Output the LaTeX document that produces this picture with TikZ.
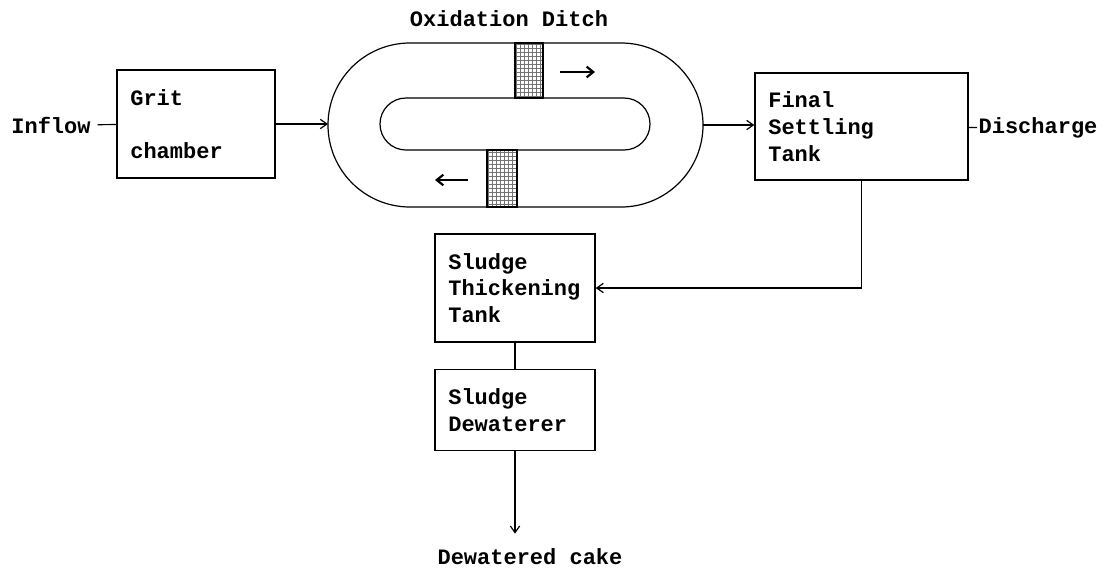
\documentclass[tikz,border=0pt]{standalone}
\usepackage{fontspec}
\setmainfont{Liberation Mono}
\usepackage{tikz}
\usetikzlibrary{shapes.misc, arrows.meta, positioning, patterns}
\tikzset{
  line/.style={draw=black, line width=0.9pt},
  arrow/.style={draw=black, line width=0.9pt, -{Straight Barb[length=5pt, width=7pt]}},
  block/.style={draw=black, line width=1pt, rectangle, align=left, font=\fontsize{16.5}{20}\selectfont\bfseries, inner xsep=10pt, minimum height=81pt}
}

\begin{document}
\begin{tikzpicture}[x=0.75pt, y=-0.75pt, ditchwall/.style={draw=black, line width=0.9pt, rounded rectangle, inner sep=0pt, outer sep=0pt}, aerator/.style={draw=black, line width=0.8pt, pattern=grid, pattern color=black!55, inner sep=0pt}, flow/.style={line width=1.6pt, -{Straight Barb[length=5pt, width=8pt]}}, txt/.style={font=\fontsize{16.5}{20}\selectfont\bfseries, inner sep=1pt}]
  \useasboundingbox (0,0) rectangle (1109,572);

  \node [txt] (title) at (509,19) {Oxidation Ditch};
  \node [ditchwall, minimum width=281.25pt, minimum height=123pt] (ditch) at (515.5,125) {};
  \node [ditchwall, minimum width=202.5pt, minimum height=39pt] (island) at (515,124) {};
  \node [aerator, minimum width=21pt, minimum height=41.25pt] (aerA) at (529,70.5) {};
  \node [aerator, minimum width=22.5pt, minimum height=42.75pt] (aerB) at (502,178.5) {};

  \node [block, text width=98.5pt] (grit) at (196,124) {Grit\\[19.75pt]chamber};
  \node [block, text width=139.75pt, minimum height=80.25pt] (fst) at (861.5,126.5) {Final\\Settling\\Tank};
  \node [block, text width=100pt] (thick) at (515,288) {Sludge\\Thickening\\Tank};
  \node [block, text width=100pt, minimum height=60.75pt, below=19.5pt of thick] (dewat) {Sludge\\Dewaterer};

  \node [txt, inner xsep=5pt] (inflow) at (51,125) {Inflow};
  \node [txt, anchor=west] (discharge) at (977,128) {Discharge};
  \node [txt] (cake) at (530,557) {Dewatered cake};
  \coordinate [below=62pt of dewat.south] (cakein);

  \coordinate (fA) at (560,72);
  \coordinate (fB) at (595,72);
  \coordinate (rA) at (468,180);
  \coordinate (rB) at (435,180);

  \draw [line] (inflow) -- (grit);
  \draw [arrow] (grit.east) -- (grit.east -| ditch.west);
  \draw [arrow] (ditch.east) -- (ditch.east -| fst.west);
  \draw [line] (fst) -- (discharge);
  \draw [arrow] (fst.south) |- (thick.east);
  \draw [line] (thick) -- (dewat);
  \draw [arrow] (dewat) -- (cakein);
  \draw [flow] (fA) -- (fB);
  \draw [flow] (rA) -- (rB);
\end{tikzpicture}
\end{document}
